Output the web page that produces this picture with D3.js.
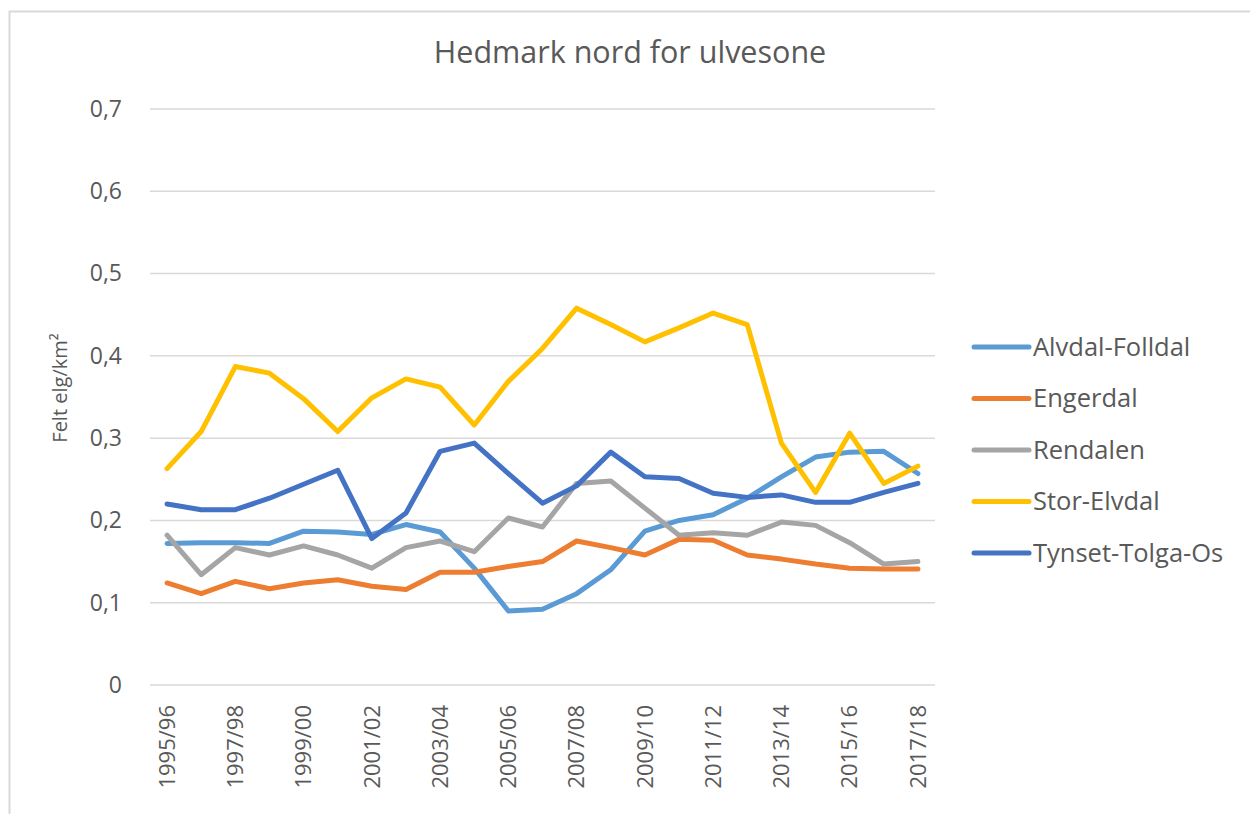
<!DOCTYPE html>
<html>
<head>
<meta charset="utf-8">
<script src="https://cdn.jsdelivr.net/npm/d3@7"></script>
<style>
  body { margin: 0; background: #fff; }
  svg { font-family: 'Open Sans', sans-serif; }
  .grid line { stroke: #d9d9d9; stroke-width: 1.5; }
  .tick-label { fill: #595959; }
</style>
</head>
<body>
<svg id="chart" width="1250" height="814"></svg>
<script>
// Data
const seasons = ['1995/96', '1996/97', '1997/98', '1998/99', '1999/00', '2000/01', '2001/02', '2002/03',
  '2003/04', '2004/05', '2005/06', '2006/07', '2007/08', '2008/09', '2009/10', '2010/11', '2011/12',
  '2012/13', '2013/14', '2014/15', '2015/16', '2016/17', '2017/18'];

const alvdalFolldal = [0.172, 0.173, 0.173, 0.172, 0.187, 0.186, 0.183, 0.195, 0.186, 0.142, 0.090, 0.092,
  0.111, 0.140, 0.187, 0.200, 0.207, 0.227, 0.253, 0.277, 0.283, 0.284, 0.257];
const engerdal = [0.124, 0.111, 0.126, 0.117, 0.124, 0.128, 0.120, 0.116, 0.137, 0.137, 0.144, 0.150,
  0.175, 0.167, 0.158, 0.177, 0.176, 0.158, 0.153, 0.147, 0.142, 0.141, 0.141];
const rendalen = [0.182, 0.134, 0.167, 0.158, 0.169, 0.158, 0.142, 0.167, 0.175, 0.162, 0.203, 0.192,
  0.245, 0.248, 0.215, 0.182, 0.185, 0.182, 0.198, 0.194, 0.173, 0.147, 0.150];
const storElvdal = [0.263, 0.308, 0.387, 0.379, 0.348, 0.308, 0.349, 0.372, 0.362, 0.316, 0.369, 0.409,
  0.458, 0.438, 0.417, 0.434, 0.452, 0.438, 0.294, 0.234, 0.306, 0.245, 0.266];
const tynsetTolgaOs = [0.220, 0.213, 0.213, 0.227, 0.244, 0.261, 0.178, 0.209, 0.284, 0.294, 0.257, 0.221,
  0.242, 0.283, 0.253, 0.251, 0.233, 0.228, 0.231, 0.222, 0.222, 0.234, 0.245];

const seriesNames = ['Alvdal-Folldal', 'Engerdal', 'Rendalen', 'Stor-Elvdal', 'Tynset-Tolga-Os'];
const seriesValues = [alvdalFolldal, engerdal, rendalen, storElvdal, tynsetTolgaOs];
const seriesColors = ['#5b9bd5', '#ed7d31', '#a5a5a5', '#ffc000', '#4472c4'];
const yTicks = [0, 0.1, 0.2, 0.3, 0.4, 0.5, 0.6, 0.7];

const svg = d3.select('#chart');

// Outer border (right and bottom edges fall outside the picture)
svg.append('rect')
  .attr('x', 9.5).attr('y', 11.5)
  .attr('width', 1260).attr('height', 820)
  .attr('fill', 'none')
  .attr('stroke', '#d9d9d9')
  .attr('stroke-width', 2);

const PLOT = { LEFT: 150, RIGHT: 935, TOP: 109, BOTTOM: 685 };

const x = d3.scaleBand()
  .domain(seasons)
  .range([PLOT.LEFT, PLOT.RIGHT]);

const y = d3.scaleLinear()
  .domain([0, 0.7])
  .range([PLOT.BOTTOM, PLOT.TOP]);

const xc = d => x(d) + x.bandwidth() / 2;
const fmt = v => d3.format('.1~f')(v).replace('.', ',');

// Gridlines
svg.append('g')
  .attr('class', 'grid')
  .selectAll('line')
  .data(yTicks)
  .enter()
  .append('line')
  .attr('x1', PLOT.LEFT)
  .attr('x2', PLOT.RIGHT)
  .attr('y1', d => y(d))
  .attr('y2', d => y(d));

// Y axis labels
const yAxis = svg.append('g')
  .attr('transform', `translate(${PLOT.LEFT}, 0)`)
  .call(d3.axisLeft(y).tickValues(yTicks).tickFormat(fmt).tickSize(0).tickPadding(28));
yAxis.select('.domain').remove();
yAxis.selectAll('text')
  .attr('class', 'tick-label')
  .style('font-size', '23px')
  .style('font-family', "'Open Sans', sans-serif");

// X axis labels (every second season)
const xAxis = svg.append('g')
  .attr('transform', `translate(0, ${PLOT.BOTTOM})`)
  .call(d3.axisBottom(x).tickValues(seasons.filter((d, i) => i % 2 === 0)).tickSize(0));
xAxis.select('.domain').remove();
xAxis.selectAll('text')
  .attr('class', 'tick-label')
  .style('font-size', '22px')
  .style('font-family', "'Open Sans', sans-serif")
  .style('text-anchor', 'end')
  .attr('transform', 'rotate(-90)')
  .attr('x', -20)
  .attr('y', 0)
  .attr('dy', '0.35em');

// Lines
const line = d3.line()
  .x((d, i) => xc(seasons[i]))
  .y(d => y(d));

svg.append('g')
  .selectAll('path')
  .data(seriesValues)
  .enter()
  .append('path')
  .attr('d', line)
  .attr('fill', 'none')
  .attr('stroke', (d, i) => seriesColors[i])
  .attr('stroke-width', 5)
  .attr('stroke-linejoin', 'round')
  .attr('stroke-linecap', 'round');

// Title
svg.append('text')
  .attr('x', 630)
  .attr('y', 63)
  .attr('text-anchor', 'middle')
  .style('font-size', '30.5px')
  .style('fill', '#595959')
  .text('Hedmark nord for ulvesone');

// Y axis title
svg.append('text')
  .attr('transform', 'translate(67, 388) rotate(-90)')
  .attr('text-anchor', 'middle')
  .style('font-size', '20px')
  .style('fill', '#595959')
  .text('Felt elg/km²');

// Legend
const legend = svg.append('g')
  .selectAll('g')
  .data(seriesNames)
  .enter()
  .append('g')
  .attr('transform', (d, i) => `translate(974, ${347 + i * 51.5})`);

legend.append('line')
  .attr('x1', 0).attr('x2', 55)
  .attr('stroke', (d, i) => seriesColors[i])
  .attr('stroke-width', 5)
  .attr('stroke-linecap', 'round');

legend.append('text')
  .attr('x', 59)
  .attr('dy', '0.35em')
  .style('font-size', '25.5px')
  .style('fill', '#595959')
  .text(d => d);
</script>
</body>
</html>
